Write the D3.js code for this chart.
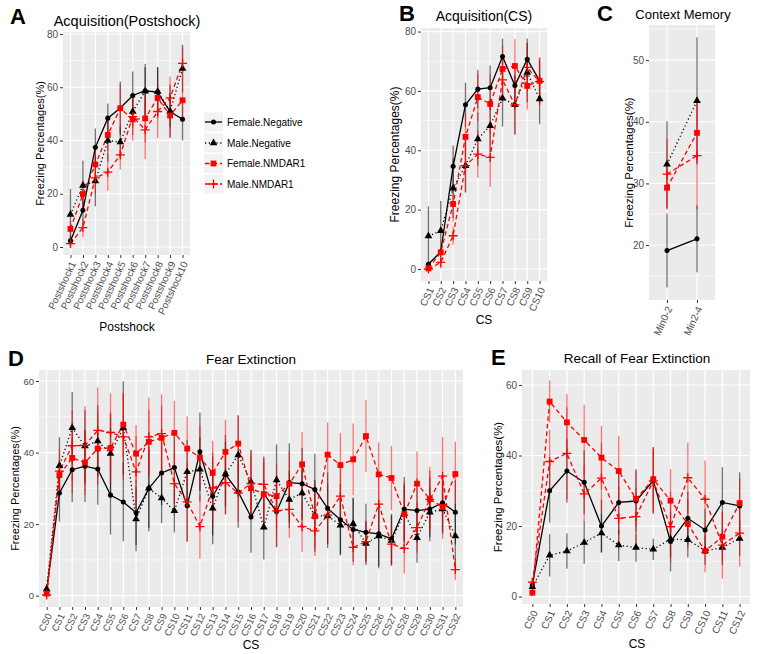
<!DOCTYPE html>
<html><head><meta charset="utf-8">
<script src="https://cdn.jsdelivr.net/npm/d3@7"></script>
<style>body{margin:0;background:#fff}svg{display:block;font-family:"Liberation Sans",Arial,sans-serif}</style>
</head><body><svg id="c" width="758" height="654"></svg>
<script>
// ---------- DATA ----------
const seriesNames = ["Female.Negative","Male.Negative","Female.NMDAR1","Male.NMDAR1"];

const catsA = ["Postshock1","Postshock2","Postshock3","Postshock4","Postshock5","Postshock6","Postshock7","Postshock8","Postshock9","Postshock10"];
const aFN  = [2.3,13.8,37.5,48.4,52.2,56.9,58.7,58.1,50.9,48.0];
const aMN  = [12.2,23.1,24.8,40.0,39.4,50.9,58.5,58.4,51.0,67.0];
const aFNM = [6.8,19.9,31.0,42.1,52.1,47.9,48.3,56.0,49.4,55.1];
const aMNM = [1.3,7.3,26.0,28.1,34.6,49.0,44.0,50.9,56.0,69.0];
const aFNe  = [2,5,7,5.5,10,9,10,9.5,10,8];
const aMNe  = [9.6,9.4,9.5,8,6,6,9,9,6,9];
const aFNMe = [3,5,6,6,9,8,9,5,8,8];
const aMNMe = [1.5,3.5,6,7,5.5,7,11,10,8,6];

const catsB = ["CS1","CS2","CS3","CS4","CS5","CS6","CS7","CS8","CS9","CS10"];
const bFN  = [1.6,5.8,34.6,55.3,60.6,61.1,71.6,61.8,70.7,63.4];
const bMN  = [11.1,12.9,27.2,34.8,43.8,48.3,57.5,55.3,66.2,57.3];
const bFNM = [0.2,5.6,21.9,44.5,57.9,55.6,67.4,68.4,61.7,63.4];
const bMNM = [0.0,2.2,11.2,34.8,38.7,37.6,63.7,55.3,67.9,63.1];
const bFNe  = [1,1,7,7.5,6.5,7.5,6,6,7,7];
const bMNe  = [10,10,10,9,9,9,9.5,10,10,8.5];
const bFNMe = [0.5,1.5,6,8,8,10,8,9,8,8];
const bMNMe = [0,2,3,9,8,10,7,10,8,8];

const catsC = ["Min0-2","Min2-4"];
const cFN  = [19.1,21.0];
const cMN  = [33.1,43.4];
const cFNM = [29.3,38.2];
const cMNM = [31.5,34.5];
const cFNe  = [6,5.4];
const cMNe  = [7,10.3];
const cFNMe = [3.5,5];
const cMNMe = [5.7,8.7];

const catsD = ["CS0","CS1","CS2","CS3","CS4","CS5","CS6","CS7","CS8","CS9","CS10","CS11","CS12","CS13","CS14","CS15","CS16","CS17","CS18","CS19","CS20","CS21","CS22","CS23","CS24","CS25","CS26","CS27","CS28","CS29","CS30","CS31","CS32"];
const dFN  = [1.3,28.7,35.2,36.2,35.4,28.1,26.2,23.2,30.0,34.3,35.8,25.1,40.2,27.8,33.9,29.0,22.0,28.5,23.5,31.6,31.3,29.7,24.4,21.2,18.5,17.7,17.3,15.9,24.2,23.8,24.2,26.0,23.3];
const dMN  = [1.9,36.3,46.9,41.8,43.2,39.7,46.9,21.4,30.0,27.3,23.7,34.6,35.3,24.4,34.0,39.3,31.8,19.1,32.3,26.9,28.7,22.3,22.3,19.7,20.1,14.6,16.7,15.4,23.0,16.2,23.3,24.2,16.7];
const dFNM = [0.6,33.7,38.5,37.2,41.1,41.3,47.8,39.7,43.0,44.1,45.5,41.1,38.6,34.3,40.2,42.5,30.0,28.4,27.8,31.3,36.7,22.2,39.4,36.5,38.1,44.6,33.9,32.9,22.8,31.3,27.0,24.8,34.0];
const dMNM = [0.2,34.8,41.9,42.0,46.2,45.6,44.4,34.6,44.4,45.3,31.3,26.2,19.3,30.1,31.6,28.7,31.4,31.1,23.7,24.1,19.3,18.1,22.5,27.8,13.5,15.1,25.6,14.4,13.2,19.0,26.9,33.4,7.3];
const dFNe  = [0.5,8,9,10,10,11,11,9,12,9,10,10,11,11,11,10,10,10,10,11,10,10,10,10,9,8,9,7,9,9,9,8,9];
const dMNe  = [0.5,8,10,10,10,11,13,9,11,7,6,9,9,10,9,11,9,9,10,8,8,10,9,8,7,6,9,7,8,7,7,7,9];
const dFNMe = [0.5,4,10,9,10,10,9,8,9,9,9,9,9,9,9,8,9,9,9,9,9,9,9,9,10,10,9,9,9,9,9,9,9];
const dMNMe = [0.5,6,10,11,12,11,12,10,11,11,9,11,9,10,9,8,9,8,10,8,7,7,8,9,5,6,9,6,7,7,8,11,3];

const catsE = ["CS0","CS1","CS2","CS3","CS4","CS5","CS6","CS7","CS8","CS9","CS10","CS11","CS12"];
const eFN  = [3.3,30.0,35.6,32.4,20.0,26.7,27.1,32.9,15.6,22.2,18.9,26.7,25.7];
const eMN  = [2.8,11.7,12.9,15.3,18.0,14.6,13.9,13.4,16.3,16.1,13.0,13.9,16.5];
const eFNM = [1.1,55.3,49.4,44.4,39.4,35.6,27.7,33.3,27.2,20.6,12.9,17.0,26.5];
const eMNM = [4.1,38.3,40.6,29.1,33.6,22.2,22.7,32.8,19.8,33.7,27.6,14.6,18.0];
const eFNe  = [1,9,9,9,7.5,9,9,9.5,8.5,7.5,6,10,9.5];
const eMNe  = [1,6,5,6,5.5,4.5,4,3,5,5,4,5,5];
const eFNMe = [1,6,8,10,9,10,8,9,9,7,6,7,7];
const eMNMe = [1,9,13,8,10,9,8,9,10,10,11,9.5,9.5];

const ticks80 = [0,20,40,60,80];
const ticksC  = [20,30,40,50];
const ticks60 = [0,20,40,60];

// ---------- STYLES ----------
const styles = [
  {color:"#000000", dash:null,    shape:"circle"},
  {color:"#000000", dash:"1.2,2.6", shape:"triangle"},
  {color:"#FF0000", dash:"4.5,3", shape:"square"},
  {color:"#FF0000", dash:"4.5,3", shape:"plus"}
];

const svg = d3.select("#c");

function drawShape(g, shape, color, x, y) {
  if (shape === "plus") {
    g.append("path").attr("d", `M${x-4.5},${y}H${x+4.5}M${x},${y-4.5}V${y+4.5}`)
      .attr("stroke", color).attr("stroke-width", 1.3).attr("fill", "none");
  } else {
    const t = shape === "circle" ? d3.symbolCircle : shape === "triangle" ? d3.symbolTriangle : d3.symbolSquare;
    const sz = shape === "circle" ? 20 : shape === "triangle" ? 26 : 34;
    g.append("path").attr("d", d3.symbol().type(t).size(sz)())
      .attr("transform", `translate(${x},${y})`).attr("fill", color);
  }
}

function panel(o) {
  const g = svg.append("g");
  const x = d3.scalePoint().domain(o.cats).range([o.x0, o.x1]).padding(0.6);
  const y = d3.scaleLinear().domain(o.yDom).range([o.yBot, o.yTop]);
  g.append("rect").attr("x", o.x0).attr("y", o.yTop).attr("width", o.x1 - o.x0).attr("height", o.yBot - o.yTop).attr("fill", "#EBEBEB");
  o.minor.forEach(v => g.append("line").attr("x1", o.x0).attr("x2", o.x1).attr("y1", y(v)).attr("y2", y(v)).attr("stroke", "#fff").attr("stroke-width", 0.6));
  o.ticks.forEach(v => g.append("line").attr("x1", o.x0).attr("x2", o.x1).attr("y1", y(v)).attr("y2", y(v)).attr("stroke", "#fff").attr("stroke-width", 1.2));
  o.cats.forEach(c => g.append("line").attr("x1", x(c)).attr("x2", x(c)).attr("y1", o.yTop).attr("y2", o.yBot).attr("stroke", "#fff").attr("stroke-width", 1.2));

  // axes
  const ay = g.append("g").attr("transform", `translate(${o.x0},0)`)
    .call(d3.axisLeft(y).tickValues(o.ticks).tickSize(3).tickPadding(2).tickFormat(d3.format("d")));
  ay.select(".domain").remove();
  ay.selectAll("line").attr("stroke", "#333");
  ay.selectAll("text").attr("fill", "#4D4D4D").style("font-size", o.tickFs + "px");

  const ax = g.append("g").attr("transform", `translate(0,${o.yBot})`)
    .call(d3.axisBottom(x).tickSize(3));
  ax.select(".domain").remove();
  ax.selectAll("line").attr("stroke", "#333");
  ax.selectAll("text").attr("fill", "#4D4D4D").style("font-size", o.tickFs + "px")
    .attr("x", 0).attr("y", 0).attr("dy", "0.35em")
    .attr("text-anchor", "end")
    .attr("transform", `translate(2,7) rotate(-65)`);

  // error bars
  o.series.forEach((s, k) => {
    const st = styles[k];
    s.v.forEach((v, i) => {
      const e = s.e[i];
      g.append("line").attr("x1", x(o.cats[i])).attr("x2", x(o.cats[i]))
        .attr("y1", y(v - e)).attr("y2", y(v + e))
        .attr("stroke", st.color).attr("stroke-opacity", 0.55).attr("stroke-width", 1.3);
    });
  });
  // lines
  o.series.forEach((s, k) => {
    const st = styles[k];
    const line = d3.line().x((d, i) => x(o.cats[i])).y(d => y(d));
    const p = g.append("path").attr("d", line(s.v)).attr("fill", "none")
      .attr("stroke", st.color).attr("stroke-width", 1.3);
    if (st.dash) p.attr("stroke-dasharray", st.dash);
  });
  // points
  o.series.forEach((s, k) => {
    const st = styles[k];
    s.v.forEach((v, i) => drawShape(g, st.shape, st.color, x(o.cats[i]), y(v)));
  });

  // texts
  g.append("text").attr("x", o.title[1]).attr("y", o.title[2]).attr("text-anchor", "middle")
    .style("font-size", o.title[3] + "px").text(o.title[0]);
  g.append("text").attr("transform", `translate(${o.ylabX},${(o.yTop + o.yBot) / 2}) rotate(-90)`)
    .attr("text-anchor", "middle").attr("dy", "0.35em").style("font-size", o.ylabFs + "px").text("Freezing Percentages(%)");
  if (o.xlab) g.append("text").attr("x", o.xlab[1]).attr("y", o.xlab[2]).attr("text-anchor", "middle")
    .style("font-size", o.xlab[3] + "px").text(o.xlab[0]);
  g.append("text").attr("x", o.letter[1]).attr("y", o.letter[2]).style("font-size", "22px")
    .style("font-weight", "bold").text(o.letter[0]);
}

panel({cats: catsA, x0: 63, x1: 190, yTop: 32, yBot: 255, yDom: [-3, 80.75], ticks: ticks80, minor: [10,30,50,70],
  series: [{v:aFN,e:aFNe},{v:aMN,e:aMNe},{v:aFNM,e:aFNMe},{v:aMNM,e:aMNMe}],
  tickFs: 10, title: ["Acquisition(Postshock)", 127, 26, 14.5], ylabX: 40, ylabFs: 11,
  xlab: ["Postshock", 127, 331, 12], letter: ["A", 10, 24]});

panel({cats: catsB, x0: 421, x1: 547, yTop: 28, yBot: 281, yDom: [-4.05, 81.2], ticks: ticks80, minor: [10,30,50,70],
  series: [{v:bFN,e:bFNe},{v:bMN,e:bMNe},{v:bFNM,e:bFNMe},{v:bMNM,e:bMNMe}],
  tickFs: 10, title: ["Acquisition(CS)", 484, 21, 14], ylabX: 395, ylabFs: 12,
  xlab: ["CS", 484, 324, 12], letter: ["B", 399, 21]});

panel({cats: catsC, x0: 649, x1: 715, yTop: 25, yBot: 300, yDom: [11.08, 55.7], ticks: ticksC, minor: [15,25,35,45,55],
  series: [{v:cFN,e:cFNe},{v:cMN,e:cMNe},{v:cFNM,e:cFNMe},{v:cMNM,e:cMNMe}],
  tickFs: 10, title: ["Context Memory", 683, 19, 13], ylabX: 629, ylabFs: 11.5,
  xlab: null, letter: ["C", 597, 21]});

panel({cats: catsD, x0: 39, x1: 463, yTop: 370, yBot: 607, yDom: [-3.16, 63.07], ticks: ticks60, minor: [10,30,50],
  series: [{v:dFN,e:dFNe},{v:dMN,e:dMNe},{v:dFNM,e:dFNMe},{v:dMNM,e:dMNMe}],
  tickFs: 9.5, title: ["Fear Extinction", 251, 364, 13.5], ylabX: 15, ylabFs: 11,
  xlab: ["CS", 251, 649, 12], letter: ["D", 8, 366]});

panel({cats: catsE, x0: 522, x1: 750, yTop: 370, yBot: 604, yDom: [-2.1, 64.25], ticks: ticks60, minor: [10,30,50],
  series: [{v:eFN,e:eFNe},{v:eMN,e:eMNe},{v:eFNM,e:eFNMe},{v:eMNM,e:eMNMe}],
  tickFs: 10, title: ["Recall of Fear Extinction", 637, 363, 13.5], ylabX: 498, ylabFs: 11.5,
  xlab: ["CS", 637, 648, 12], letter: ["E", 491, 365]});

// legend
const lg = svg.append("g");
const legY = [122, 143, 163.5, 184];
seriesNames.forEach((n, k) => {
  const st = styles[k];
  const cy = legY[k];
  lg.append("rect").attr("x", 204).attr("y", cy - 9.5).attr("width", 19).attr("height", 19).attr("fill", "#F2F2F2");
  const p = lg.append("line").attr("x1", 205).attr("x2", 222).attr("y1", cy).attr("y2", cy)
    .attr("stroke", st.color).attr("stroke-width", 1.3);
  if (st.dash) p.attr("stroke-dasharray", st.dash);
  drawShape(lg, st.shape, st.color, 213.5, cy);
  lg.append("text").attr("x", 227).attr("y", cy).attr("dy", "0.35em").style("font-size", "10px").text(n);
});
</script></body></html>
